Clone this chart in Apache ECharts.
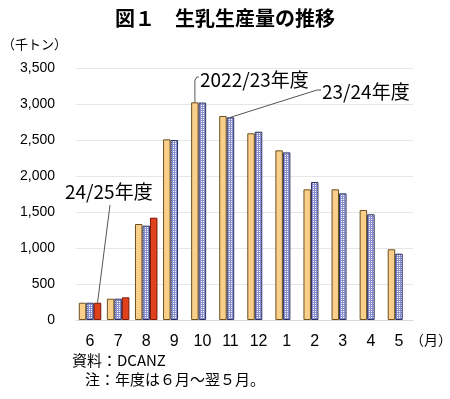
<!DOCTYPE html>
<html>
<head>
<meta charset="utf-8">
<script src="https://cdn.jsdelivr.net/npm/echarts@6/dist/echarts.min.js"></script>
<style>
  html, body { margin: 0; padding: 0; background: #fff; }
  #main { width: 450px; height: 399px; }
</style>
</head>
<body>
<div id="main"></div>
<script>
// 月（6月〜翌5月）
const months = ['6', '7', '8', '9', '10', '11', '12', '1', '2', '3', '4', '5'];
// 生乳生産量（千トン）
const fy2022 = [240, 296, 1333, 2509, 3023, 2833, 2593, 2356, 1815, 1815, 1528, 982];
const fy2023 = [240, 296, 1310, 2500, 3020, 2815, 2615, 2328, 1916, 1759, 1468, 921];
const fy2024 = [240, 315, 1421, null, null, null, null, null, null, null, null, null];
const yTicks = [0, 500, 1000, 1500, 2000, 2500, 3000, 3500];

const JP = '"Noto Sans CJK JP", sans-serif';
const NUM = '"Liberation Sans", Arial, sans-serif';

// 青の格子模様
function gridPattern() {
  const c = document.createElement('canvas');
  c.width = 2; c.height = 2;
  const g = c.getContext('2d');
  g.fillStyle = '#ffffff';
  g.fillRect(0, 0, 2, 2);
  g.fillStyle = '#8890d2';
  g.fillRect(0, 0, 2, 1);
  g.fillRect(0, 0, 1, 2);
  return c;
}

const chart = echarts.init(document.getElementById('main'));
chart.setOption({
  animation: false,
  title: {
    text: '図１　生乳生産量の推移',
    left: 'center',
    top: 3,
    textStyle: { fontFamily: JP, fontSize: 20, fontWeight: 'bold', color: '#000' }
  },
  grid: { left: 76, right: 37, top: 68, bottom: 79 },
  xAxis: {
    type: 'category',
    data: months,
    axisLine: { lineStyle: { color: '#d9d9d9' } },
    axisTick: { show: false },
    axisLabel: { fontFamily: NUM, fontSize: 16, color: '#000', margin: 14 }
  },
  yAxis: {
    type: 'value',
    min: yTicks[0],
    max: yTicks[yTicks.length - 1],
    interval: 500,
    axisLine: { show: false },
    axisTick: { show: false },
    splitLine: { lineStyle: { color: '#e6e6e6' } },
    axisLabel: {
      fontFamily: NUM, fontSize: 14, color: '#000', margin: 21,
      formatter: v => v.toLocaleString('en-US')
    }
  },
  series: [
    {
      name: '2022/23年度', type: 'bar', data: fy2022, barWidth: 7.5, barGap: '0%',
      itemStyle: { color: '#f9cf8a', borderColor: '#6b5020', borderWidth: 1 }
    },
    {
      name: '23/24年度', type: 'bar', data: fy2023, barWidth: 7.5, barGap: '0%',
      itemStyle: { color: { image: gridPattern(), repeat: 'repeat' }, borderColor: '#2a2f5e', borderWidth: 1 }
    },
    {
      name: '24/25年度', type: 'bar', data: fy2024, barWidth: 7.5, barGap: '0%',
      itemStyle: { color: '#e0401c', borderColor: '#7a1a08', borderWidth: 1 }
    }
  ]
});

// 注釈（引き出し線の根元は棒の頂点から計算）
const off = 7.5;
const p22 = chart.convertToPixel({ seriesIndex: 0 }, [4, fy2022[4]]);
const p23 = chart.convertToPixel({ seriesIndex: 1 }, [5, fy2023[5]]);
const p24 = chart.convertToPixel({ seriesIndex: 2 }, [0, fy2024[0]]);
const lineStyle = { stroke: '#555', lineWidth: 1, fill: null };
const labelStyle = { fontFamily: JP, fontSize: 19, fill: '#000', verticalAlign: 'middle' };

chart.setOption({
  graphic: [
    { type: 'text', left: 2, top: 38, style: { text: '（千トン）', fontFamily: JP, fontSize: 13, fill: '#000' } },
    { type: 'text', left: 410, top: 333, style: { text: '（月）', fontFamily: JP, fontSize: 14, fill: '#000' } },
    { type: 'text', left: 72, top: 353, style: { text: '資料：DCANZ', fontFamily: JP, fontSize: 15, fill: '#000' } },
    { type: 'text', left: 85, top: 372, style: { text: '注：年度は６月～翌５月。', fontFamily: JP, fontSize: 15, fill: '#000' } },

    { type: 'polyline', shape: { points: [[p22[0] - off, p22[1]], [p22[0] - off, 80], [p22[0] - off + 2, 77], [p22[0] - off + 4, 77]] }, style: lineStyle },
    { type: 'text', x: 200, y: 80, style: Object.assign({ text: '2022/23年度' }, labelStyle) },

    { type: 'polyline', shape: { points: [[p23[0], p23[1]], [317, 90], [321, 90]] }, style: lineStyle },
    { type: 'text', x: 322, y: 92, style: Object.assign({ text: '23/24年度' }, labelStyle) },

    { type: 'line', shape: { x1: 110, y1: 205, x2: p24[0] + off, y2: p24[1] }, style: lineStyle },
    { type: 'text', x: 65, y: 192, style: Object.assign({ text: '24/25年度' }, labelStyle) }
  ]
});
</script>
</body>
</html>
